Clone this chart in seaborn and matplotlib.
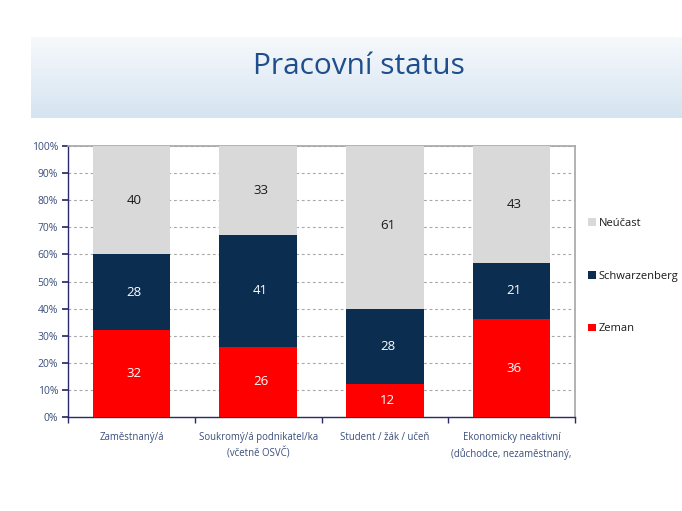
import numpy as np
import pandas as pd
import matplotlib
matplotlib.use("Agg")
import matplotlib.pyplot as plt
import seaborn as sns
from matplotlib.patches import Patch

categories = ["Zaměstnaný/á", "Soukromý/á podnikatel/ka\n(včetně OSVČ)",
              "Student / žák / učeň", "Ekonomicky neaktivní\n(důchodce, nezaměstnaný,"]
zeman = [32, 26, 12, 36]
schwarzenberg = [28, 41, 28, 21]
neucast = [40, 33, 61, 43]
series_names = ["Zeman", "Schwarzenberg", "Neúčast"]
y_ticks = [0, 10, 20, 30, 40, 50, 60, 70, 80, 90, 100]
title = "Pracovní status"

colors = {"Zeman": "#ff0000", "Schwarzenberg": "#0b2d50", "Neúčast": "#d9d9d9"}
text_colors = {"Zeman": "white", "Schwarzenberg": "white", "Neúčast": "#1a1a1a"}

sns.set_theme(style="white")
FONT = ["Open Sans", "DejaVu Sans"]
plt.rcParams["font.family"] = FONT

fig = plt.figure(figsize=(6.82, 5.11), dpi=100)

# Title banner with gradient
bax = fig.add_axes([31 / 682, 1 - 118 / 511, 1 - 31 / 682, 81 / 511])
grad = np.linspace(0, 1, 100).reshape(-1, 1)
c1 = np.array([0.965, 0.976, 0.988])
c2 = np.array([0.835, 0.894, 0.945])
img = c1[None, None, :] * (1 - grad[:, :, None]) + c2[None, None, :] * grad[:, :, None]
bax.imshow(img, aspect="auto", extent=[0, 1, 0, 1], origin="upper")
bax.set_axis_off()
fig.text(359 / 682, 1 - 66 / 511, title, ha="center", va="center",
         fontsize=21.5, color="#1f4e8c", family=FONT)

ax = fig.add_axes([68 / 682, 1 - 417 / 511, (575 - 68) / 682, (417 - 146) / 511])

df = pd.DataFrame({"cat": categories, "Zeman": zeman,
                   "Schwarzenberg": schwarzenberg, "Neúčast": neucast})
df["c1"] = df["Zeman"]
df["c2"] = df["Zeman"] + df["Schwarzenberg"]
df["c3"] = df["c2"] + df["Neúčast"]

for col, name in [("c3", "Neúčast"), ("c2", "Schwarzenberg"), ("c1", "Zeman")]:
    sns.barplot(data=df, x="cat", y=col, color=colors[name], order=categories,
                width=0.61, ax=ax, saturation=1, edgecolor="none", linewidth=0, zorder=3)

# value labels
for i in range(len(categories)):
    bottoms = [0, df["c1"][i], df["c2"][i]]
    vals = [zeman[i], schwarzenberg[i], neucast[i]]
    for b, v, name in zip(bottoms, vals, series_names):
        ax.text(i + 0.02, b + v / 2, str(v), ha="center", va="center", fontsize=9.5,
                color=text_colors[name], zorder=5, family=FONT)

ax.set_xlim(-0.5, 3.5)
ax.set_ylim(0, 100)
ax.set_yticks(y_ticks)
ax.set_yticklabels([f"{t}%" for t in y_ticks], fontsize=7.5, color="#3b4f7c")
ax.set_xticks(range(len(categories)))
ax.set_xticklabels(categories, fontsize=6.9, color="#3b4f7c", linespacing=1.5)
ax.set_xticks(np.arange(-0.5, 4, 1), minor=True)
ax.tick_params(axis="x", which="major", length=0, pad=11)
ax.tick_params(axis="x", which="minor", length=4, color="#2b2b6b", direction="out", bottom=True)
ax.tick_params(axis="y", length=4, color="#2b2b6b", direction="out", left=True, pad=3)
ax.set_xlabel("")
ax.set_ylabel("")
ax.grid(axis="y", linestyle=(0, (2.5, 2.5)), color="#a8a8a8", linewidth=0.8, zorder=0)
ax.set_axisbelow(True)
for s in ["left", "bottom"]:
    ax.spines[s].set_color("#2b2b6b")
    ax.spines[s].set_linewidth(1.0)
for s in ["top", "right"]:
    ax.spines[s].set_color("#a6a6a6")
    ax.spines[s].set_linewidth(1.2)

handles = [Patch(facecolor=colors[n], edgecolor="none") for n in ["Neúčast", "Schwarzenberg", "Zeman"]]
leg = fig.legend(handles, ["Neúčast", "Schwarzenberg", "Zeman"], loc="upper left",
                 bbox_to_anchor=(578 / 682, 1 - 208 / 511), frameon=False,
                 handlelength=0.7, handleheight=0.7, handletextpad=0.25,
                 labelspacing=3.75, prop={"size": 8, "family": FONT})
for t in leg.get_texts():
    t.set_color("#1a1a1a")

fig.savefig("out.png", dpi=100)
